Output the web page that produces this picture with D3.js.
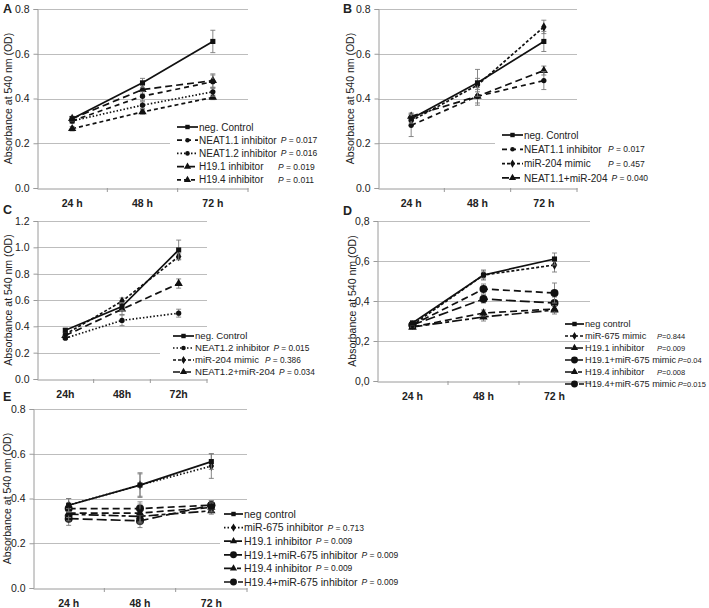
<!DOCTYPE html>
<html>
<head>
<meta charset="utf-8">
<script src="https://cdn.jsdelivr.net/npm/d3@7"></script>
<style>
  body { margin: 0; background: #fff; }
  text { font-family: "Liberation Sans", Arial, sans-serif; fill: #222; }
</style>
</head>
<body>
<div id="chart"></div>
<script>
// time points (x categories)
var times = ["24 h", "48 h", "72 h"];
var timesC = ["24h", "48h", "72h"];

// Panel A
var aNames = ["neg. Control", "NEAT1.1 inhibitor", "NEAT1.2 inhibitor", "H19.1 inhibitor", "H19.4 inhibitor"];
var aValues = [[0.31, 0.47, 0.655], [0.30, 0.41, 0.475], [0.30, 0.37, 0.43], [0.31, 0.44, 0.48], [0.265, 0.34, 0.405]];
var aErrors = [[0.01, 0.02, 0.05], [0.01, 0.02, 0.03], [0.01, 0.015, 0.02], [0.01, 0.02, 0.03], [0.01, 0.01, 0.01]];
var aP = [null, "0.017", "0.016", "0.019", "0.011"];
var aTicks = [0, 0.2, 0.4, 0.6, 0.8];

// Panel B
var bNames = ["neg. Control", "NEAT1.1 inhibitor", "miR-204 mimic", "NEAT1.1+miR-204"];
var bValues = [[0.31, 0.47, 0.655], [0.28, 0.41, 0.48], [0.30, 0.46, 0.72], [0.32, 0.41, 0.525]];
var bErrors = [[0.02, 0.06, 0.045], [0.05, 0.04, 0.04], [0.02, 0.03, 0.03], [0.015, 0.03, 0.02]];
var bP = [null, "0.017", "0.457", "0.040"];
var bTicks = [0, 0.2, 0.4, 0.6, 0.8];

// Panel C
var cNames = ["neg. Control", "NEAT1.2 inhibitor", "miR-204 mimic", "NEAT1.2+miR-204"];
var cValues = [[0.37, 0.55, 0.98], [0.31, 0.445, 0.50], [0.34, 0.59, 0.93], [0.33, 0.53, 0.725]];
var cErrors = [[0.015, 0.03, 0.075], [0.01, 0.04, 0.03], [0.015, 0.025, 0.02], [0.015, 0.04, 0.035]];
var cP = [null, "0.015", "0.386", "0.034"];
var cTicks = [0, 0.2, 0.4, 0.6, 0.8, 1.0, 1.2];

// Panel D
var dNames = ["neg control", "miR-675 mimic", "H19.1 inhibitor", "H19.1+miR-675 mimic", "H19.4 inhibitor", "H19.4+miR-675 mimic"];
var dValues = [[0.29, 0.53, 0.61], [0.28, 0.53, 0.58], [0.27, 0.34, 0.36], [0.28, 0.46, 0.44], [0.27, 0.32, 0.355], [0.28, 0.41, 0.39]];
var dErrors = [[0.01, 0.02, 0.03], [0.01, 0.025, 0.035], [0.01, 0.015, 0.015], [0.01, 0.025, 0.05], [0.01, 0.02, 0.02], [0.01, 0.02, 0.03]];
var dP = [null, "0.844", "0.009", "0.04", "0.008", "0.015"];
var dTicks = [0, 0.2, 0.4, 0.6, 0.8];

// Panel E
var eNames = ["neg control", "miR-675 inhibitor", "H19.1 inhibitor", "H19.1+miR-675 inhibitor", "H19.4 inhibitor", "H19.4+miR-675 inhibitor"];
var eValues = [[0.37, 0.46, 0.565], [0.37, 0.46, 0.545], [0.335, 0.335, 0.36], [0.355, 0.355, 0.37], [0.33, 0.32, 0.345], [0.31, 0.30, 0.37]];
var eErrors = [[0.03, 0.055, 0.035], [0.03, 0.05, 0.055], [0.02, 0.04, 0.02], [0.02, 0.03, 0.02], [0.03, 0.03, 0.015], [0.03, 0.03, 0.02]];
var eP = [null, "0.713", "0.009", "0.009", "0.009", "0.009"];
var eTicks = [0, 0.2, 0.4, 0.6, 0.8];

// line / marker styles
var S = {
  solid:  {dash: null, sym: "square", size: 26},
  dash:   {dash: "5,4", sym: "circle", size: 22},
  dot:    {dash: "1.5,2", sym: "circle", size: 22},
  dotD:   {dash: "1.5,2", sym: "diamond", size: 26},
  shortD: {dash: "3,2", sym: "diamond", size: 26},
  longT:  {dash: "7,4", sym: "triangle", size: 30},
  shortT: {dash: "4,3", sym: "triangle", size: 30},
  dashDotT: {dash: "10,3,4,3", sym: "triangle", size: 30},
  longC:  {dash: "7,4", sym: "circle", size: 50},
  longerC: {dash: "10,4", sym: "circle", size: 50}
};
var symbols = {square: d3.symbolSquare, circle: d3.symbolCircle, diamond: d3.symbolDiamond, triangle: d3.symbolTriangle};

var panels = [
  {letter: "A", lx: 3, ly: 13, names: aNames, values: aValues, errors: aErrors, p: aP, ticks: aTicks, cats: times, fmt: ".1f",
   left: 37, right: 248, top: 9, bottom: 188, max: 0.8, titleX: 12,
   styles: [S.solid, S.dash, S.dot, S.longT, S.shortT],
   leg: {x: 177, y: 127, dy: 13.2, sw: 21, px: 278, fs: 10, pfs: 8.5, compact: false, bg: [170, 118, 130, 68]}},
  {letter: "B", lx: 343, ly: 13, names: bNames, values: bValues, errors: bErrors, p: bP, ticks: bTicks, cats: times, fmt: ".1f",
   left: 378, right: 577, top: 9, bottom: 188, max: 0.8, titleX: 354,
   styles: [S.solid, S.dash, S.shortD, S.longT],
   leg: {x: 502, y: 135, dy: 14.3, sw: 21, px: 608, fs: 10, pfs: 8.5, compact: false, bg: [495, 127, 150, 58]}},
  {letter: "C", lx: 3, ly: 214, names: cNames, values: cValues, errors: cErrors, p: cP, ticks: cTicks, cats: timesC, fmt: ".1f",
   left: 37, right: 207, top: 221, bottom: 379, max: 1.2, titleX: 12,
   styles: [S.solid, S.dot, S.shortD, S.longT],
   leg: {x: 173, y: 336, dy: 12, sw: 21, px: 265, fs: 9.6, pfs: 8.3, compact: false, bg: [160, 329, 140, 48]}},
  {letter: "D", lx: 343, ly: 215, names: dNames, values: dValues, errors: dErrors, p: dP, ticks: dTicks, cats: times, fmt: ",",
   left: 377, right: 590, top: 221, bottom: 381, max: 0.8, titleX: 356,
   styles: [S.solid, S.shortD, S.longT, S.longC, S.dashDotT, S.longerC],
   leg: {x: 565, y: 324, dy: 12, sw: 19, px: 657, fs: 9.2, pfs: 7.5, compact: true, bg: null}},
  {letter: "E", lx: 3, ly: 401, names: eNames, values: eValues, errors: eErrors, p: eP, ticks: eTicks, cats: times, fmt: ".1f",
   left: 33, right: 247, top: 409, bottom: 588, max: 0.8, titleX: 11,
   styles: [S.solid, S.dotD, S.longT, S.longC, S.dashDotT, S.longerC],
   leg: {x: 224, y: 514, dy: 13.6, sw: 19, px: 287, fs: 10.5, pfs: 8.5, compact: false, bg: [220, 506, 150, 80]}}
];

var svg = d3.select("#chart").append("svg")
  .attr("width", 709)
  .attr("height", 608);

panels.forEach(function(pn) {
  var g = svg.append("g");

  var x = d3.scaleBand().domain(pn.cats).range([pn.left, pn.right]).padding(0);
  var y = d3.scaleLinear().domain([0, pn.max]).range([pn.bottom, pn.top]);
  var fmt = pn.fmt === "," ? function(v) { return d3.format(".1f")(v).replace(".", ","); } : d3.format(pn.fmt);

  // gridlines
  g.selectAll(".grid").data(pn.ticks.filter(function(t) { return t > 0; }))
    .enter().append("line")
    .attr("x1", pn.left).attr("x2", pn.right)
    .attr("y1", function(d) { return Math.round(y(d)) + 0.5; })
    .attr("y2", function(d) { return Math.round(y(d)) + 0.5; })
    .attr("stroke", "#bdbdbd").attr("stroke-width", 1);

  // legend background (hides the gridlines behind the legend)
  if (pn.leg.bg) {
    g.append("rect").attr("x", pn.leg.bg[0]).attr("y", pn.leg.bg[1])
      .attr("width", pn.leg.bg[2]).attr("height", pn.leg.bg[3]).attr("fill", "#fff");
  }

  // y axis
  var yAxis = d3.axisLeft(y).tickValues(pn.ticks).tickFormat(fmt).tickSize(4).tickPadding(4);
  var ya = g.append("g").attr("transform", "translate(" + (pn.left + 0.5) + ",0)").call(yAxis);
  ya.select(".domain").attr("stroke", "#9a9a9a");
  ya.selectAll(".tick line").attr("stroke", "#9a9a9a");
  ya.selectAll(".tick text").attr("font-size", "10.5px").attr("fill", "#222")
    .style("font-family", "'Liberation Sans', Arial, sans-serif");

  // x axis
  var xAxis = d3.axisBottom(x).tickSize(0).tickPadding(11);
  var xa = g.append("g").attr("transform", "translate(0," + (Math.round(pn.bottom) + 0.5) + ")").call(xAxis);
  xa.select(".domain").attr("stroke", "#9a9a9a");
  xa.selectAll(".tick text").attr("font-size", "10.5px").attr("font-weight", "bold").attr("fill", "#333")
    .style("font-family", "'Liberation Sans', Arial, sans-serif");
  // category boundary ticks
  g.selectAll(".xb").data(pn.cats.slice(1).concat(["end"]))
    .enter().append("line")
    .attr("x1", function(d) { return d === "end" ? pn.right : x(d); })
    .attr("x2", function(d) { return d === "end" ? pn.right : x(d); })
    .attr("y1", pn.bottom).attr("y2", pn.bottom + 4)
    .attr("stroke", "#9a9a9a");

  // y title
  g.append("text")
    .attr("transform", "translate(" + pn.titleX + "," + ((pn.top + pn.bottom) / 2) + ") rotate(-90)")
    .attr("text-anchor", "middle")
    .attr("font-size", "10.5px")
    .text("Absorbance at 540 nm (OD)");

  // panel letter
  g.append("text").attr("x", pn.lx).attr("y", pn.ly)
    .attr("font-size", "12.5px").attr("font-weight", "bold").text(pn.letter);

  var cx = function(i) { return x(pn.cats[i]) + x.bandwidth() / 2; };

  // series, drawn from last to first so the control sits on top
  for (var s = pn.values.length - 1; s >= 0; s--) {
    var st = pn.styles[s];
    var vals = pn.values[s], errs = pn.errors[s];
    var pts = vals.map(function(v, i) { return {i: i, v: v, e: errs[i]}; });

    // error bars
    var eb = g.append("g").attr("stroke", "#7a7a7a").attr("stroke-width", 0.9);
    pts.forEach(function(p) {
      var xx = cx(p.i);
      eb.append("line").attr("x1", xx).attr("x2", xx).attr("y1", y(p.v - p.e)).attr("y2", y(p.v + p.e));
      eb.append("line").attr("x1", xx - 2.5).attr("x2", xx + 2.5).attr("y1", y(p.v - p.e)).attr("y2", y(p.v - p.e));
      eb.append("line").attr("x1", xx - 2.5).attr("x2", xx + 2.5).attr("y1", y(p.v + p.e)).attr("y2", y(p.v + p.e));
    });

    var line = d3.line().x(function(d) { return cx(d.i); }).y(function(d) { return y(d.v); });
    g.append("path").datum(pts)
      .attr("d", line)
      .attr("fill", "none").attr("stroke", "#111").attr("stroke-width", 1.7)
      .attr("stroke-dasharray", st.dash);

    g.selectAll(null).data(pts).enter().append("path")
      .attr("d", d3.symbol().type(symbols[st.sym]).size(st.size))
      .attr("transform", function(d) { return "translate(" + cx(d.i) + "," + y(d.v) + ")"; })
      .attr("fill", "#111");
  }

  // legend
  var lg = g.append("g");
  pn.names.forEach(function(name, i) {
    var st = pn.styles[i];
    var ly = pn.leg.y + i * pn.leg.dy;
    var sw = pn.leg.sw;
    lg.append("line").attr("x1", pn.leg.x).attr("x2", pn.leg.x + sw)
      .attr("y1", ly).attr("y2", ly)
      .attr("stroke", "#111").attr("stroke-width", 1.7).attr("stroke-dasharray", st.dash);
    lg.append("path").attr("d", d3.symbol().type(symbols[st.sym]).size(st.size * 0.75))
      .attr("transform", "translate(" + (pn.leg.x + sw / 2) + "," + ly + ")").attr("fill", "#111");
    var t = lg.append("text").attr("x", pn.leg.x + sw + 1).attr("y", ly + pn.leg.fs * 0.36)
      .attr("font-size", pn.leg.fs + "px").text(name);
    if (pn.p[i]) {
      var end = pn.leg.x + sw + 1 + t.node().getComputedTextLength();
      var px = Math.max(pn.leg.px, end + (pn.leg.compact ? 1.5 : 4));
      var pt = lg.append("text").attr("x", px).attr("y", ly + 3).attr("font-size", pn.leg.pfs + "px");
      pt.append("tspan").attr("font-style", "italic").text("P");
      pt.append("tspan").text((pn.leg.compact ? "=" : " = ") + pn.p[i]);
    }
  });
});
</script>
</body>
</html>
